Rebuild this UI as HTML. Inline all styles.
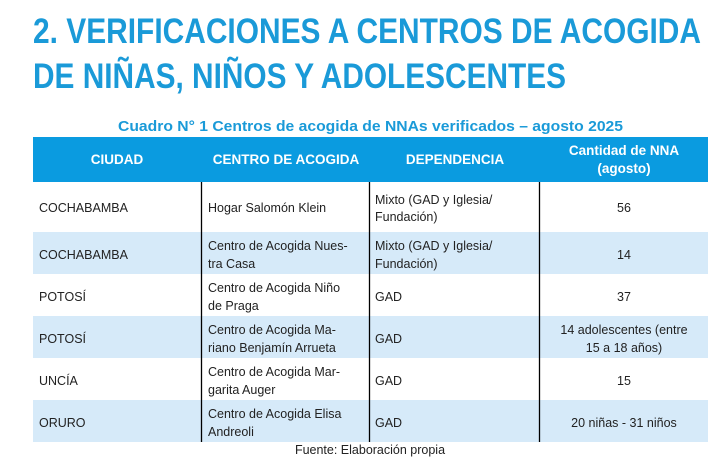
<!DOCTYPE html>
<html><head><meta charset="utf-8"><style>
html,body{margin:0;padding:0;background:#fff;width:719px;height:472px;overflow:hidden}
svg{display:block}
text{font-family:"Liberation Sans",sans-serif}
.t{font-weight:bold;fill:#1a9ad8;font-size:35px}
.h{font-weight:bold;fill:#fff;font-size:13.5px}
.b{fill:#222;font-size:12.5px}
</style></head><body>
<svg width="719" height="472" viewBox="0 0 719 472">
<text class="t" x="33" y="43" textLength="668" lengthAdjust="spacingAndGlyphs">2. VERIFICACIONES A CENTROS DE ACOGIDA</text>
<text class="t" x="33" y="88" textLength="533" lengthAdjust="spacingAndGlyphs">DE NIÑAS, NIÑOS Y ADOLESCENTES</text>
<text x="118" y="131" textLength="505" lengthAdjust="spacingAndGlyphs" style="font-weight:bold;fill:#1a9ad8;font-size:14.5px">Cuadro N° 1 Centros de acogida de NNAs verificados – agosto 2025</text>
<rect x="33" y="137" width="675" height="45" fill="#0a9be0"/>
<rect x="33" y="232" width="675" height="42" fill="#d6eaf9"/>
<rect x="33" y="316" width="675" height="42" fill="#d6eaf9"/>
<rect x="33" y="400" width="675" height="42" fill="#d6eaf9"/>
<g stroke="#000" stroke-width="1.3">
<line x1="201.5" y1="182" x2="201.5" y2="442"/>
<line x1="369.5" y1="182" x2="369.5" y2="442"/>
<line x1="539.5" y1="182" x2="539.5" y2="442"/>
</g>
<text class="h" x="117" y="164" text-anchor="middle">CIUDAD</text>
<text class="h" x="286" y="164" text-anchor="middle">CENTRO DE ACOGIDA</text>
<text class="h" x="455" y="164" text-anchor="middle">DEPENDENCIA</text>
<text class="h" x="624" y="155" text-anchor="middle">Cantidad de NNA</text>
<text class="h" x="624" y="173" text-anchor="middle">(agosto)</text>
<g class="b">
<text class="b" x="39" y="212">COCHABAMBA</text>
<text class="b" x="208" y="212">Hogar Salomón Klein</text>
<text class="b" x="375" y="204">Mixto (GAD y Iglesia/</text>
<text class="b" x="375" y="221">Fundación)</text>
<text class="b" x="624" y="212" text-anchor="middle">56</text>

<text class="b" x="39" y="259">COCHABAMBA</text>
<text class="b" x="208" y="250">Centro de Acogida Nues-</text>
<text class="b" x="208" y="268">tra Casa</text>
<text class="b" x="375" y="250">Mixto (GAD y Iglesia/</text>
<text class="b" x="375" y="268">Fundación)</text>
<text class="b" x="624" y="259" text-anchor="middle">14</text>

<text class="b" x="39" y="301">POTOSÍ</text>
<text class="b" x="208" y="292">Centro de Acogida Niño</text>
<text class="b" x="208" y="310">de Praga</text>
<text class="b" x="375" y="301">GAD</text>
<text class="b" x="624" y="301" text-anchor="middle">37</text>

<text class="b" x="39" y="343">POTOSÍ</text>
<text class="b" x="208" y="334">Centro de Acogida Ma-</text>
<text class="b" x="208" y="352">riano Benjamín Arrueta</text>
<text class="b" x="375" y="343">GAD</text>
<text class="b" x="624" y="334" text-anchor="middle">14 adolescentes (entre</text>
<text class="b" x="624" y="352" text-anchor="middle">15 a 18 años)</text>

<text class="b" x="39" y="385">UNCÍA</text>
<text class="b" x="208" y="376">Centro de Acogida Mar-</text>
<text class="b" x="208" y="394">garita Auger</text>
<text class="b" x="375" y="385">GAD</text>
<text class="b" x="624" y="385" text-anchor="middle">15</text>

<text class="b" x="39" y="427">ORURO</text>
<text class="b" x="208" y="418">Centro de Acogida Elisa</text>
<text class="b" x="208" y="436">Andreoli</text>
<text class="b" x="375" y="427">GAD</text>
<text class="b" x="624" y="427" text-anchor="middle">20 niñas - 31 niños</text>
</g>
<text class="b" x="370" y="454" text-anchor="middle">Fuente: Elaboración propia</text>
</svg>
</body></html>
